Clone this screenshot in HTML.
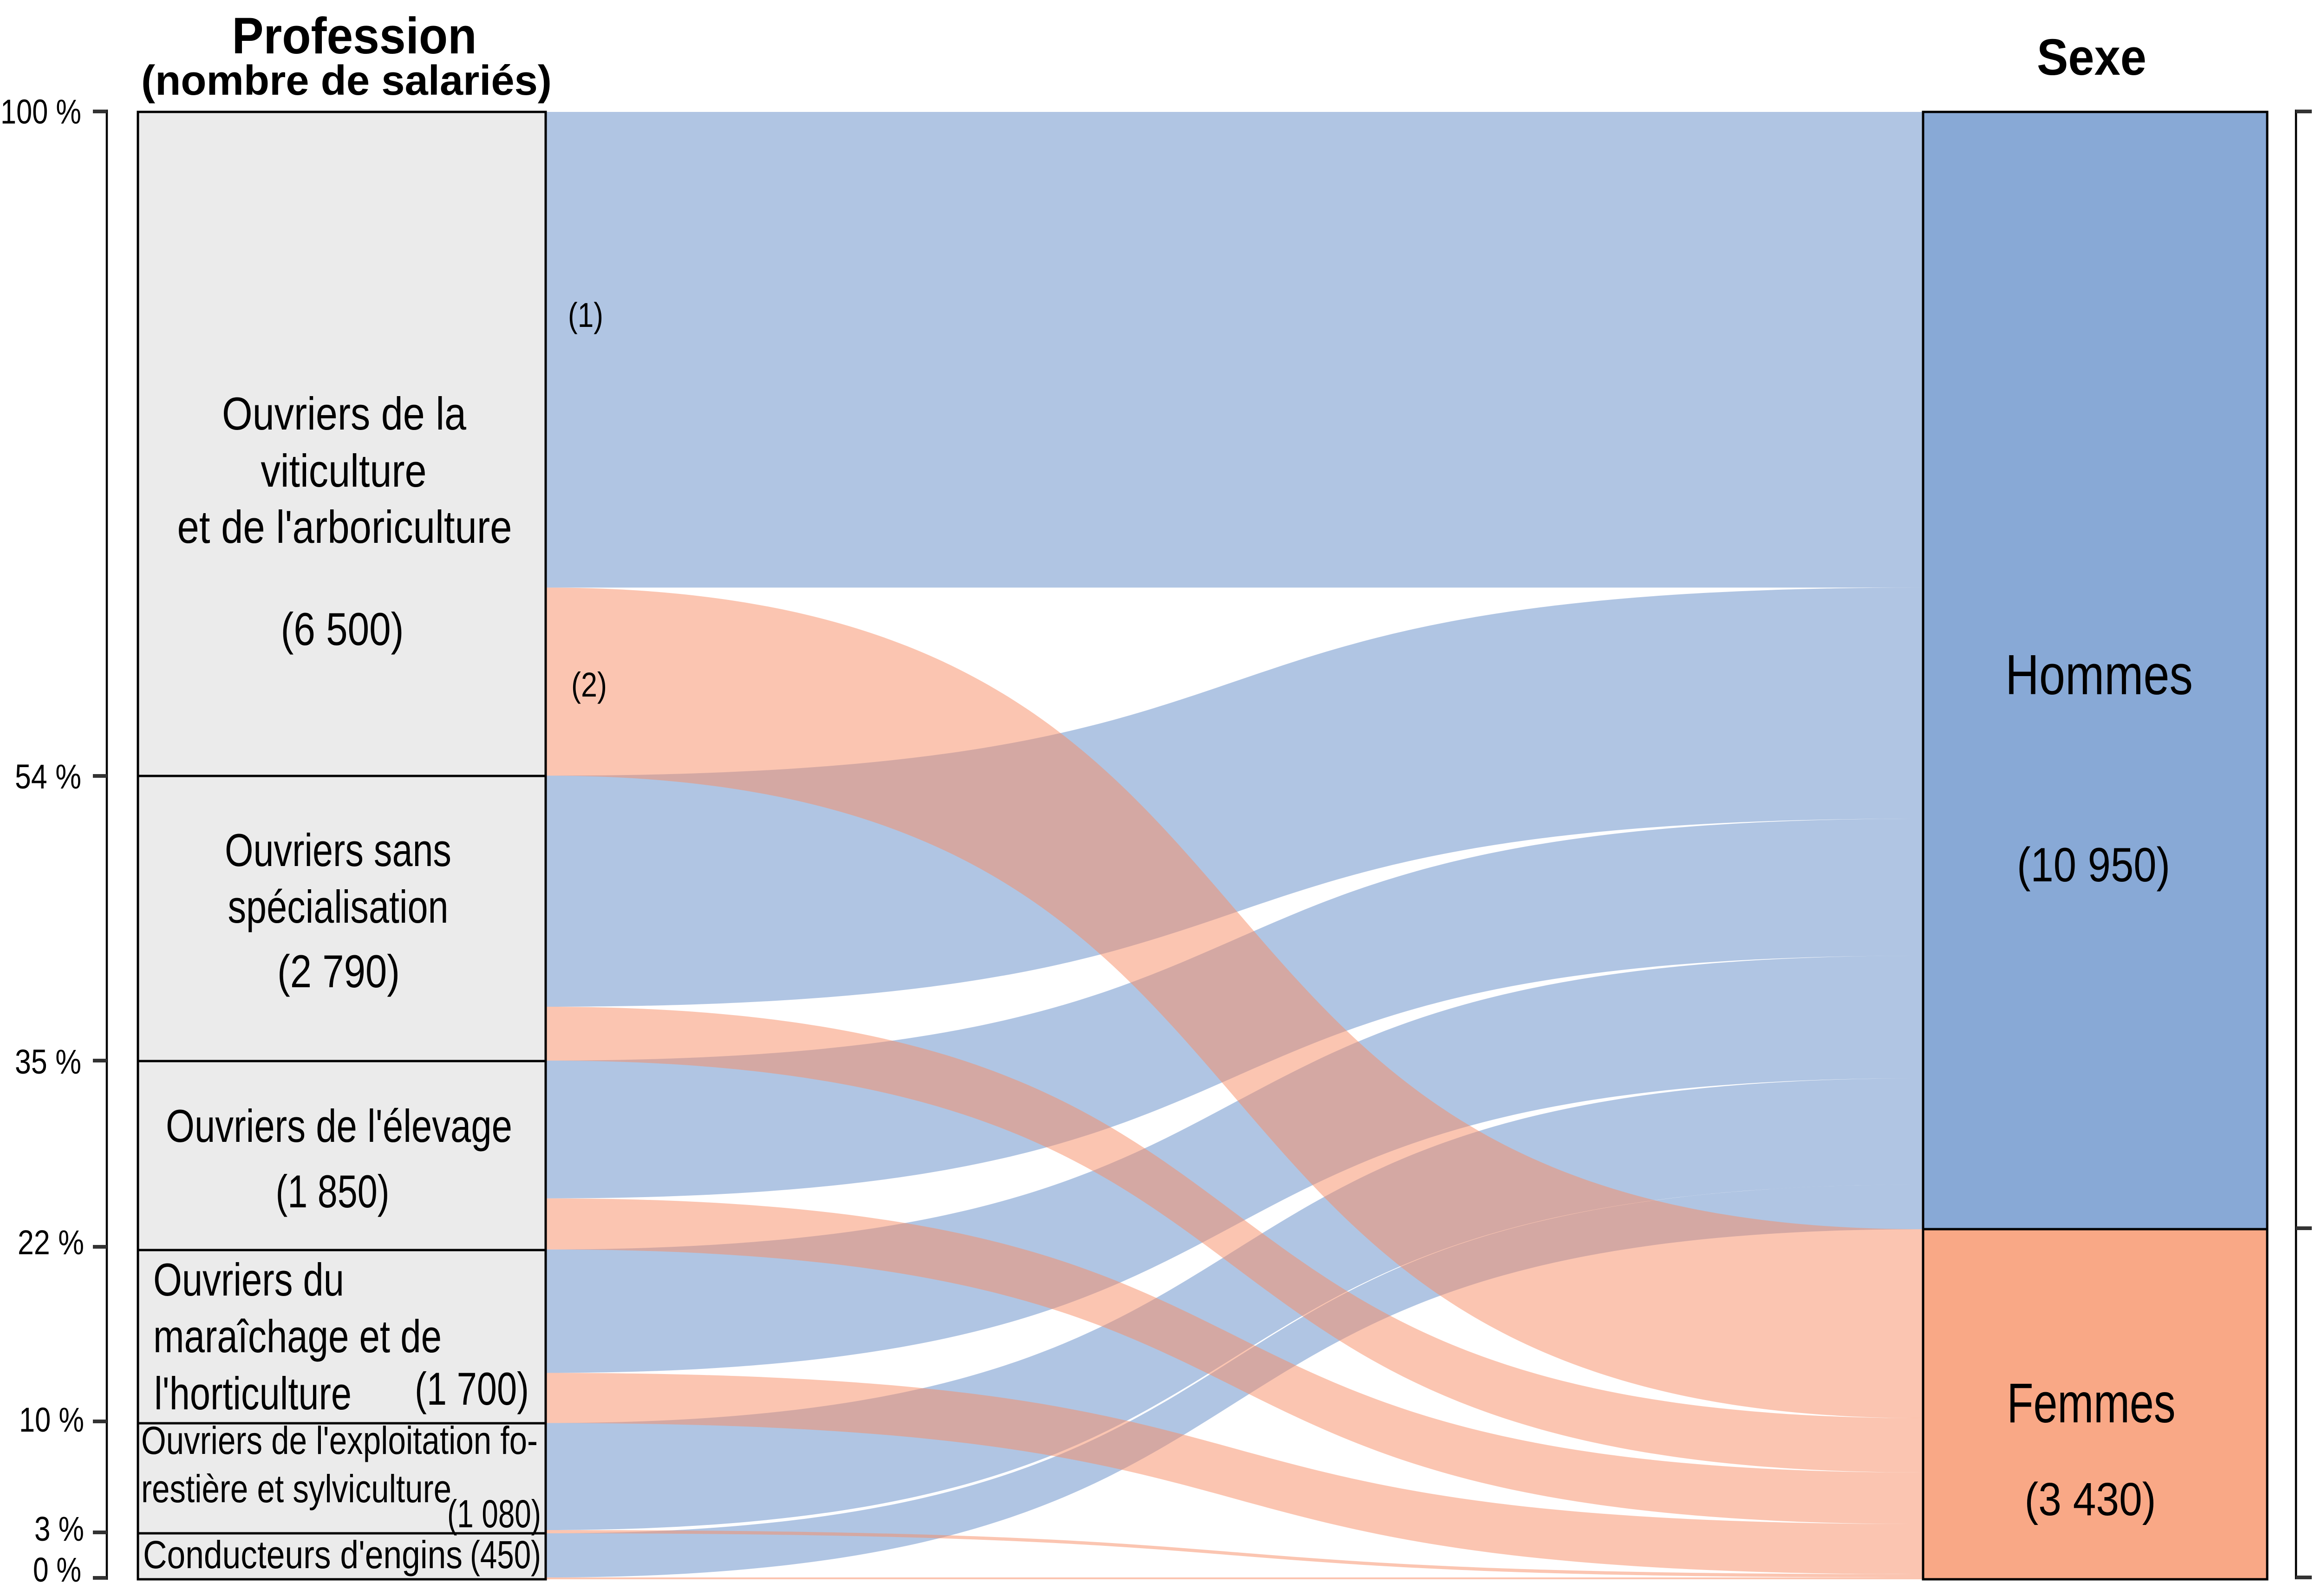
<!DOCTYPE html>
<html>
<head>
<meta charset="utf-8">
<style>
html,body{margin:0;padding:0;background:#fff;}
svg{display:block;}
text{font-family:"Liberation Sans",Arial,sans-serif;fill:#000;}
.b{font-weight:bold;}
</style>
</head>
<body>
<svg width="5202" height="3437" viewBox="0 0 5202 3437" xmlns="http://www.w3.org/2000/svg">
<rect x="0" y="0" width="5202" height="3437" fill="#fff"/>

<!-- Blue flows (Hommes) -->
<g fill="#618BC7" fill-opacity="0.5">
<path d="M1175 241 L4141 241 L4141 1265.4 L1175 1265.4 Z"/>
<path d="M1175 1670.4 C2954.6 1670.4 2361.4 1265.4 4141 1265.4 L4141 1763 C2361.4 1763 2954.6 2168 1175 2168 Z"/>
<path d="M1175 2284 C2954.6 2284 2361.4 1763 4141 1763 L4141 2058 C2361.4 2058 2954.6 2580.7 1175 2580.7 Z"/>
<path d="M1175 2690.7 C2954.6 2690.7 2361.4 2058 4141 2058 L4141 2322 C2361.4 2322 2954.6 2956.5 1175 2956.5 Z"/>
<path d="M1175 3064.5 C2954.6 3064.5 2361.4 2322 4141 2322 L4141 2551 C2361.4 2551 2954.6 3295 1175 3295 Z"/>
<path d="M1175 3302 C2954.6 3302 2361.4 2551 4141 2551 L4141 2647.2 C2361.4 2647.2 2954.6 3397 1175 3397 Z"/>
</g>

<!-- Pink flows (Femmes) -->
<g fill="#F78B63" fill-opacity="0.5">
<path d="M1175 1265.4 C2954.6 1265.4 2361.4 2647.2 4141 2647.2 L4141 3054 C2361.4 3054 2954.6 1670.4 1175 1670.4 Z"/>
<path d="M1175 2168 C2954.6 2168 2361.4 3054 4141 3054 L4141 3171 C2361.4 3171 2954.6 2284 1175 2284 Z"/>
<path d="M1175 2580.7 C2954.6 2580.7 2361.4 3171 4141 3171 L4141 3282 C2361.4 3282 2954.6 2690.7 1175 2690.7 Z"/>
<path d="M1175 2956.5 C2954.6 2956.5 2361.4 3282 4141 3282 L4141 3390 C2361.4 3390 2954.6 3064.5 1175 3064.5 Z"/>
<path d="M1175 3295 C2954.6 3295 2361.4 3390 4141 3390 L4141 3397 C2361.4 3397 2954.6 3302 1175 3302 Z"/>
<path d="M1175 3397 C2954.6 3397 2361.4 3397 4141 3397 L4141 3401 C2361.4 3401 2954.6 3401 1175 3401 Z"/>
</g>

<!-- Left stratum boxes -->
<rect x="297" y="241" width="878" height="3160" fill="#EBEBEB" stroke="#000" stroke-width="5"/>
<g stroke="#000" stroke-width="5">
<line x1="297" y1="1671" x2="1175" y2="1671"/>
<line x1="297" y1="2285" x2="1175" y2="2285"/>
<line x1="297" y1="2692" x2="1175" y2="2692"/>
<line x1="297" y1="3065" x2="1175" y2="3065"/>
<line x1="297" y1="3302" x2="1175" y2="3302"/>
</g>

<!-- Right stratum boxes -->
<rect x="4141" y="241" width="741" height="2406" fill="#88A9D6"/>
<rect x="4141" y="2647" width="741" height="754" fill="#F9A886"/>
<rect x="4141" y="241" width="741" height="3160" fill="none" stroke="#000" stroke-width="5"/>
<line x1="4141" y1="2647" x2="4882" y2="2647" stroke="#000" stroke-width="5"/>

<!-- Left axis -->
<line x1="230" y1="236" x2="230" y2="3402" stroke="#000" stroke-width="4.5"/>
<g fill="#333">
<rect x="200" y="236" width="30" height="8"/>
<rect x="200" y="1667" width="30" height="8"/>
<rect x="200" y="2280" width="30" height="8"/>
<rect x="200" y="2681" width="30" height="8"/>
<rect x="200" y="3057" width="30" height="8"/>
<rect x="200" y="3296" width="30" height="8"/>
<rect x="200" y="3394" width="30" height="8"/>
</g>

<!-- Right axis -->
<line x1="4944" y1="236" x2="4944" y2="3401" stroke="#000" stroke-width="4.5"/>
<g fill="#333">
<rect x="4944" y="236" width="34" height="8"/>
<rect x="4944" y="2641" width="34" height="8"/>
<rect x="4944" y="3393" width="34" height="8"/>
</g>

<!-- Titles -->
<text class="b" x="763" y="115" font-size="110" text-anchor="middle" textLength="527" lengthAdjust="spacingAndGlyphs">Profession</text>
<text class="b" x="746" y="204" font-size="90" text-anchor="middle" textLength="884" lengthAdjust="spacingAndGlyphs">(nombre de salariés)</text>
<text class="b" x="4504" y="161" font-size="110" text-anchor="middle" textLength="236" lengthAdjust="spacingAndGlyphs">Sexe</text>

<!-- Left tick labels -->
<g font-size="74">
<text x="175" y="266" text-anchor="end" textLength="174" lengthAdjust="spacingAndGlyphs">100 %</text>
<text x="175" y="1698" text-anchor="end" textLength="143" lengthAdjust="spacingAndGlyphs">54 %</text>
<text x="175" y="2312" text-anchor="end" textLength="143" lengthAdjust="spacingAndGlyphs">35 %</text>
<text x="181" y="2701" text-anchor="end" textLength="143" lengthAdjust="spacingAndGlyphs">22 %</text>
<text x="181" y="3083" text-anchor="end" textLength="140" lengthAdjust="spacingAndGlyphs">10 %</text>
<text x="181" y="3318" text-anchor="end" textLength="107" lengthAdjust="spacingAndGlyphs">3 %</text>
<text x="175" y="3406" text-anchor="end" textLength="104" lengthAdjust="spacingAndGlyphs">0 %</text>
</g>

<!-- Right tick labels -->
<g font-size="74">
<text x="5027" y="264" textLength="172" lengthAdjust="spacingAndGlyphs">100 %</text>
<text x="5011" y="2668" textLength="142" lengthAdjust="spacingAndGlyphs">24 %</text>
<text x="5011" y="3411" textLength="105" lengthAdjust="spacingAndGlyphs">0 %</text>
</g>

<!-- Flow annotations -->
<g font-size="74">
<text x="1223" y="704" textLength="76" lengthAdjust="spacingAndGlyphs">(1)</text>
<text x="1230" y="1500" textLength="77" lengthAdjust="spacingAndGlyphs">(2)</text>
</g>

<!-- Left box labels -->
<g font-size="99">
<text x="741" y="925" text-anchor="middle" textLength="526" lengthAdjust="spacingAndGlyphs">Ouvriers de la</text>
<text x="740" y="1048" text-anchor="middle" textLength="357" lengthAdjust="spacingAndGlyphs">viticulture</text>
<text x="742" y="1169" text-anchor="middle" textLength="721" lengthAdjust="spacingAndGlyphs">et de l'arboriculture</text>
<text x="737" y="1389" text-anchor="middle" textLength="265" lengthAdjust="spacingAndGlyphs">(6 500)</text>

<text x="728" y="1865" text-anchor="middle" textLength="488" lengthAdjust="spacingAndGlyphs">Ouvriers sans</text>
<text x="728" y="1987" text-anchor="middle" textLength="475" lengthAdjust="spacingAndGlyphs">spécialisation</text>
<text x="729" y="2126" text-anchor="middle" textLength="264" lengthAdjust="spacingAndGlyphs">(2 790)</text>

<text x="730" y="2459" text-anchor="middle" textLength="746" lengthAdjust="spacingAndGlyphs">Ouvriers de l'élevage</text>
<text x="716" y="2600" text-anchor="middle" textLength="245" lengthAdjust="spacingAndGlyphs">(1 850)</text>

<text x="330" y="2790" textLength="411" lengthAdjust="spacingAndGlyphs">Ouvriers du</text>
<text x="330" y="2912" textLength="621" lengthAdjust="spacingAndGlyphs">maraîchage et de</text>
<text x="332" y="3035" textLength="425" lengthAdjust="spacingAndGlyphs">l'horticulture</text>
<text x="893" y="3025" textLength="246" lengthAdjust="spacingAndGlyphs">(1 700)</text>
</g>
<g font-size="84">
<text x="304" y="3131" textLength="854" lengthAdjust="spacingAndGlyphs">Ouvriers de l'exploitation fo-</text>
<text x="304" y="3235" textLength="668" lengthAdjust="spacingAndGlyphs">restière et sylviculture</text>
<text x="963" y="3289" textLength="202" lengthAdjust="spacingAndGlyphs">(1 080)</text>
<text x="308" y="3377" textLength="688" lengthAdjust="spacingAndGlyphs">Conducteurs d'engins</text>
<text x="1012" y="3377" textLength="153" lengthAdjust="spacingAndGlyphs">(450)</text>
</g>

<!-- Right box labels -->
<text x="4520" y="1495" font-size="122" text-anchor="middle" textLength="404" lengthAdjust="spacingAndGlyphs">Hommes</text>
<text x="4508" y="1898" font-size="104" text-anchor="middle" textLength="330" lengthAdjust="spacingAndGlyphs">(10 950)</text>
<text x="4503" y="3063" font-size="121" text-anchor="middle" textLength="363" lengthAdjust="spacingAndGlyphs">Femmes</text>
<text x="4501" y="3263" font-size="100" text-anchor="middle" textLength="283" lengthAdjust="spacingAndGlyphs">(3 430)</text>
</svg>
</body>
</html>
